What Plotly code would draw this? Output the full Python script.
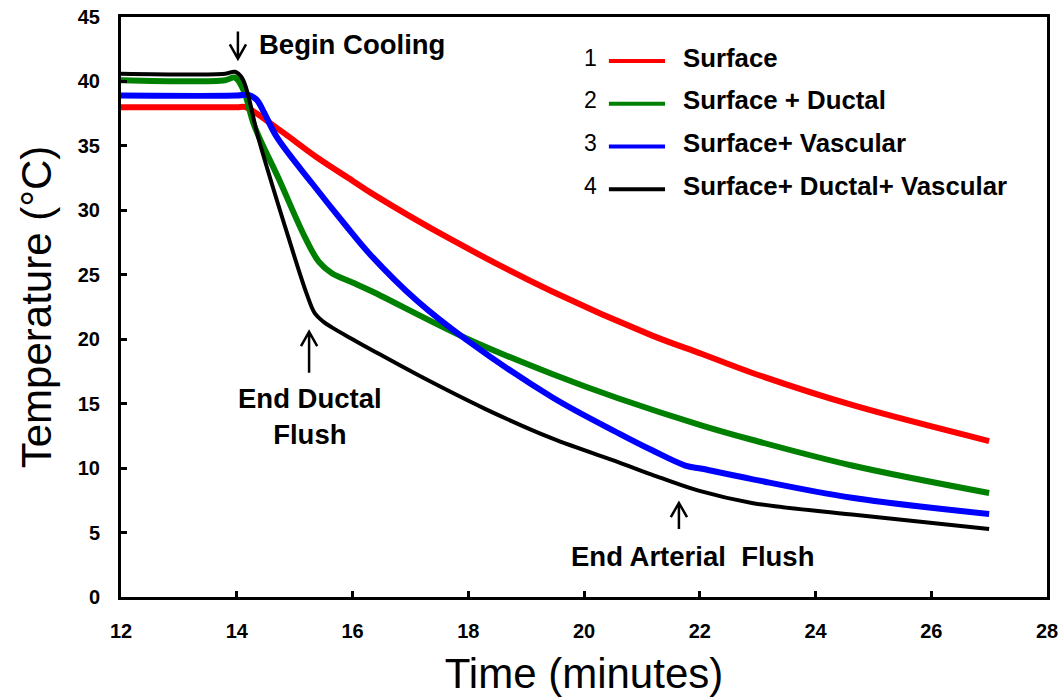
import plotly.graph_objects as go

# ---------------- data ----------------
surface_t = [12, 14.0, 14.15, 14.72, 15.42, 16.0, 16.34, 17.72, 19.45, 21.17, 22.04, 22.9, 24.63, 27.0]
surface_v = [38.0, 38.0, 38.0, 36.3, 34.0, 32.3, 31.3, 27.7, 23.7, 20.3, 18.85, 17.4, 14.9, 12.1]

ductal_t = [12, 13.8, 13.97, 14.12, 14.3, 14.72, 15.18, 15.42, 15.65, 16.0, 16.34, 18.0, 19.45, 20.6, 22.04, 22.9, 24.63, 27.0]
ductal_v = [40.1, 40.1, 40.3, 39.3, 36.6, 32.5, 27.9, 26.0, 25.1, 24.4, 23.7, 20.0, 17.3, 15.4, 13.3, 12.2, 10.2, 8.07]

vascular_t = [12, 14.0, 14.2, 14.34, 14.46, 14.69, 15.3, 15.87, 16.3, 17.11, 17.97, 19.45, 20.6, 21.17, 21.75, 22.04, 22.9, 24.63, 27.0]
vascular_v = [38.9, 38.9, 38.95, 38.6, 37.7, 35.7, 32.1, 28.9, 26.6, 23.0, 19.95, 15.5, 12.7, 11.4, 10.2, 9.95, 9.15, 7.7, 6.44]

all_t = [12, 13.8, 13.97, 14.1, 14.38, 14.9, 15.21, 15.35, 15.5, 15.65, 16.0, 16.34, 17.14, 18.29, 19.45, 20.6, 21.17, 21.98, 22.9, 24.63, 27.0]
all_v = [40.6, 40.6, 40.75, 40.2, 35.5, 27.8, 23.5, 22.0, 21.35, 20.9, 20.0, 19.15, 17.2, 14.6, 12.3, 10.45, 9.5, 8.25, 7.3, 6.4, 5.28]

series_names = ["Surface", "Surface + Ductal", "Surface+ Vascular", "Surface+ Ductal+ Vascular"]
series_numbers = ["1", "2", "3", "4"]
series_t = [surface_t, ductal_t, vascular_t, all_t]
series_v = [surface_v, ductal_v, vascular_v, all_v]

x_ticks = [12, 14, 16, 18, 20, 22, 24, 26, 28]
y_ticks = [0, 5, 10, 15, 20, 25, 30, 35, 40, 45]

# ---------------- styles ----------------
colors = ["#FF0000", "#008000", "#0000FF", "#000000"]
widths = [6, 6, 6, 4]
FONT = "Arial, 'Liberation Sans', sans-serif"

fig = go.Figure()
for t, v, name, c, w in zip(series_t, series_v, series_names, colors, widths):
    fig.add_trace(go.Scatter(
        x=t, y=v, name=name, mode="lines",
        line=dict(color=c, width=w, shape="spline", smoothing=1.0),
        showlegend=False, hoverinfo="x+y+name",
    ))

# manual legend (number, line sample, bold label)
leg_num_x = 20.12
leg_line_x0, leg_line_x1 = 20.43, 21.40
leg_label_x = 21.675
leg_rows = [41.85, 38.53, 35.23, 31.91]
for num, name, c, yrow in zip(series_numbers, series_names, colors, leg_rows):
    fig.add_annotation(x=leg_num_x, y=yrow, text=num, showarrow=False,
                       xanchor="center", yanchor="middle",
                       font=dict(family=FONT, size=23, color="black"))
    fig.add_shape(type="line", x0=leg_line_x0, x1=leg_line_x1, y0=yrow - 0.27, y1=yrow - 0.27,
                  xref="x", yref="y", line=dict(color=c, width=4))
    fig.add_annotation(x=leg_label_x, y=yrow, text="<b>" + name + "</b>", showarrow=False,
                       xanchor="left", yanchor="middle",
                       font=dict(family=FONT, size=25.8, color="black"))


def add_arrow(x, y_tail, y_head, dx=0.14, dy=1.1):
    """open-chevron arrow drawn in data coordinates"""
    sgn = 1 if y_head > y_tail else -1
    path = (f"M {x},{y_tail} L {x},{y_head} "
            f"M {x - dx},{y_head - sgn * dy} L {x},{y_head} L {x + dx},{y_head - sgn * dy}")
    fig.add_shape(type="path", path=path, xref="x", yref="y",
                  line=dict(color="black", width=2.5))


# text annotations with arrows
add_arrow(14.02, 43.87, 41.77)
fig.add_annotation(x=14.35, y=42.85, text="<b>Begin Cooling</b>", showarrow=False,
                   xanchor="left", yanchor="middle", font=dict(family=FONT, size=27.5, color="black"))

add_arrow(15.25, 17.39, 20.57)
fig.add_annotation(x=15.27, y=14.0, text="<b>End Ductal<br>Flush</b>", showarrow=False,
                   xanchor="center", yanchor="middle", align="center",
                   font=dict(family=FONT, size=27.5, color="black"))

add_arrow(21.64, 5.28, 7.30)
fig.add_annotation(x=21.88, y=3.15, text="<b>End Arterial&nbsp; Flush</b>", showarrow=False,
                   xanchor="center", yanchor="middle", font=dict(family=FONT, size=27.5, color="black"))

axis_common = dict(
    showgrid=False, zeroline=False, showline=True, linecolor="black", linewidth=3,
    mirror=True, ticks="inside", ticklen=6, tickwidth=2.5, tickcolor="black",
    tickfont=dict(family=FONT, size=20, color="black", weight="bold"),
    automargin=False,
)

fig.update_layout(
    width=1063, height=700,
    margin=dict(l=121, r=16, t=17, b=103),
    paper_bgcolor="white", plot_bgcolor="white",
    xaxis=dict(range=[12, 28], tickvals=x_ticks, ticktext=[str(v) for v in x_ticks],
               ticklabelstandoff=14,
               title=dict(text="Time (minutes)", font=dict(family=FONT, size=42, color="black"), standoff=18),
               **axis_common),
    yaxis=dict(range=[0, 45], tickvals=y_ticks, ticktext=[str(v) for v in y_ticks],
               ticklabelstandoff=14,
               title=dict(text="Temperature (°C)", font=dict(family=FONT, size=42, color="black"), standoff=14),
               **axis_common),
)

fig.write_html("out.html", config={"displayModeBar": False},
               post_script="document.body.style.margin='0';")
